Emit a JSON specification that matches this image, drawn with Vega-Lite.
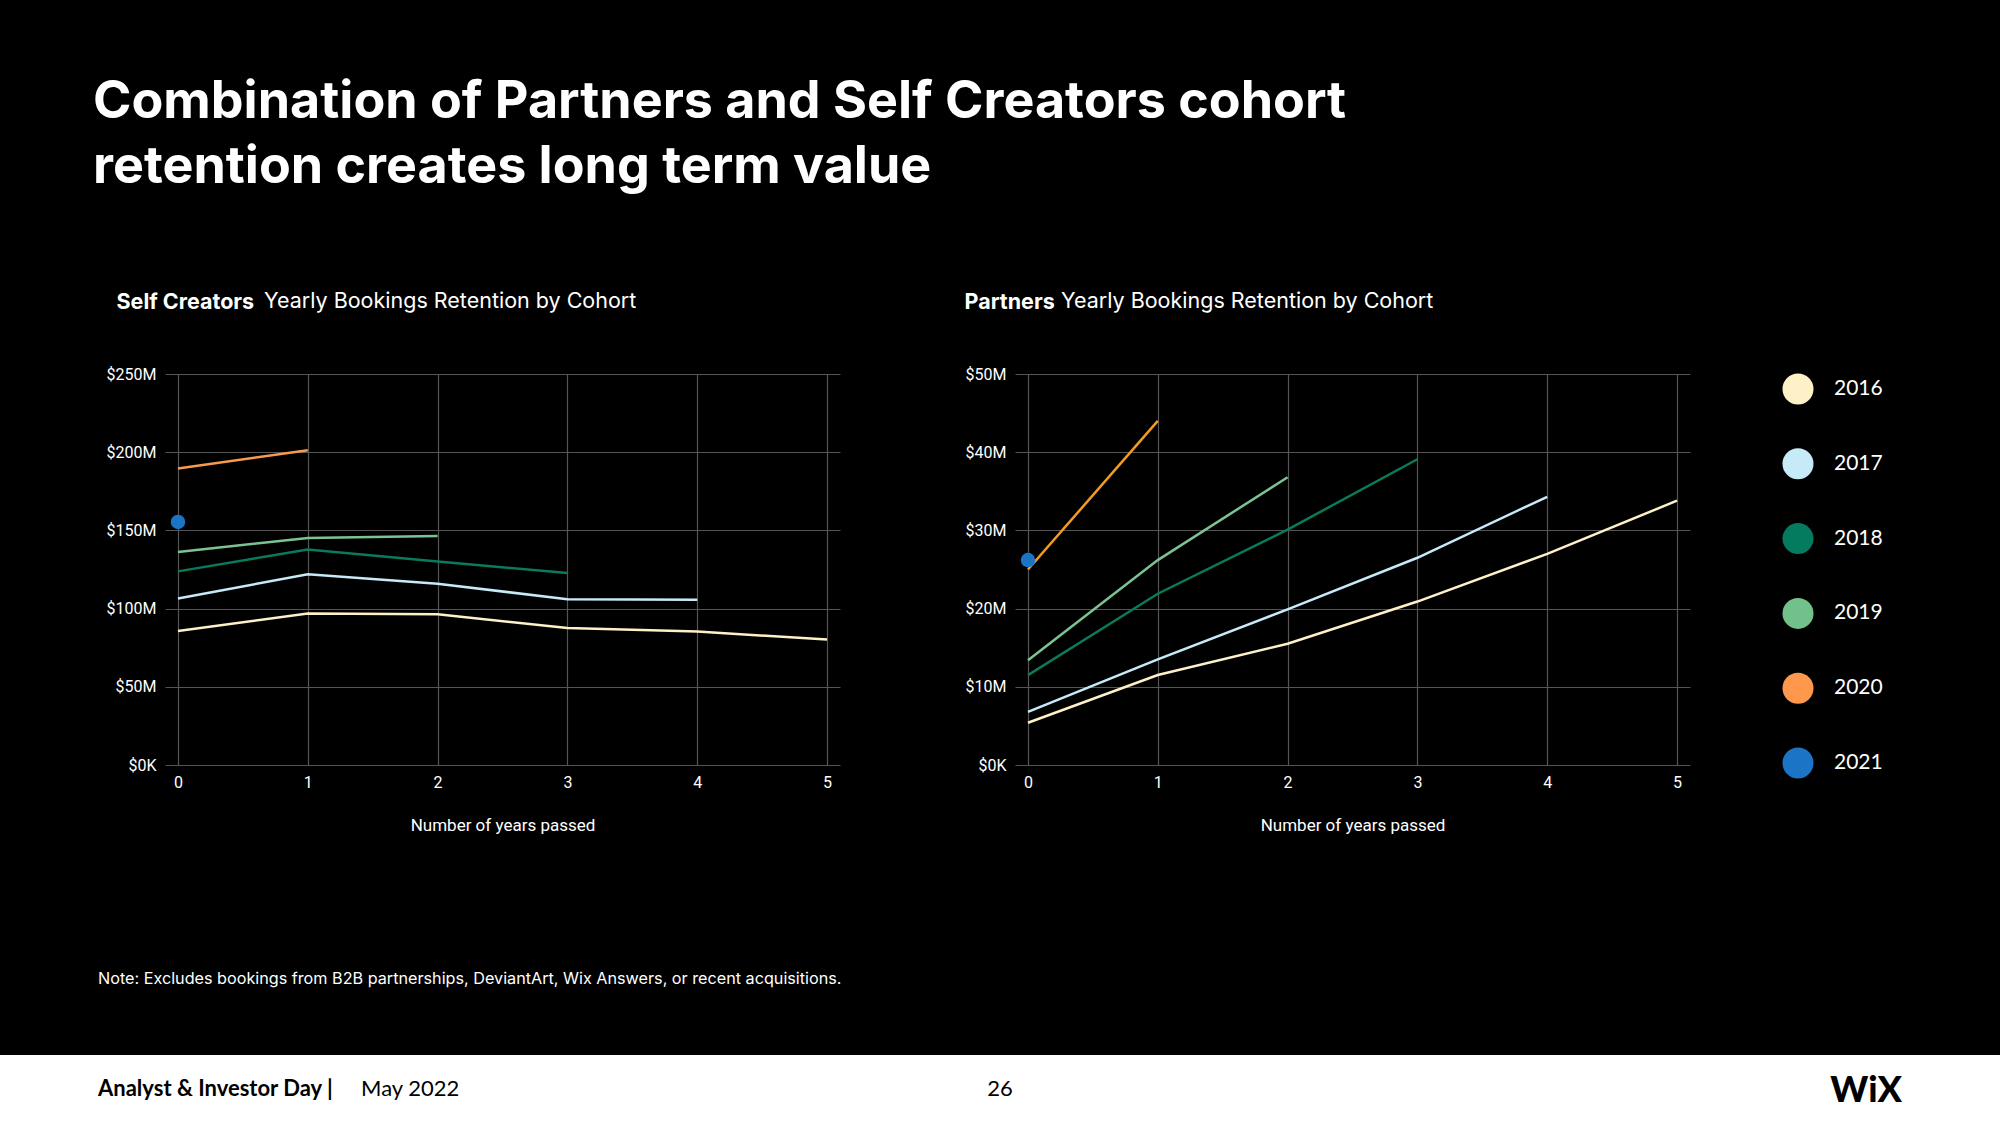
{
  "$schema": "https://vega.github.io/schema/vega-lite/v6.json",
  "background": "black",
  "padding": {"left": 0, "top": 75, "right": 0, "bottom": 0},
  "autosize": {"type": "pad"},
  "datasets": {
    "self": [
      {"cohort": "2016", "year": 0, "value": 85.7},
      {"cohort": "2016", "year": 1, "value": 96.9},
      {"cohort": "2016", "year": 2, "value": 96.4},
      {"cohort": "2016", "year": 3, "value": 87.6},
      {"cohort": "2016", "year": 4, "value": 85.3},
      {"cohort": "2016", "year": 5, "value": 80.2},
      {"cohort": "2017", "year": 0, "value": 106.4},
      {"cohort": "2017", "year": 1, "value": 122.0},
      {"cohort": "2017", "year": 2, "value": 115.9},
      {"cohort": "2017", "year": 3, "value": 106.0},
      {"cohort": "2017", "year": 4, "value": 105.7},
      {"cohort": "2018", "year": 0, "value": 123.8},
      {"cohort": "2018", "year": 1, "value": 137.8},
      {"cohort": "2018", "year": 2, "value": 130.1},
      {"cohort": "2018", "year": 3, "value": 122.7},
      {"cohort": "2019", "year": 0, "value": 136.2},
      {"cohort": "2019", "year": 1, "value": 145.2},
      {"cohort": "2019", "year": 2, "value": 146.4},
      {"cohort": "2020", "year": 0, "value": 189.6},
      {"cohort": "2020", "year": 1, "value": 201.2},
      {"cohort": "2021", "year": 0, "value": 155.4}
    ],
    "partners": [
      {"cohort": "2016", "year": 0, "value": 5.4},
      {"cohort": "2016", "year": 1, "value": 11.5},
      {"cohort": "2016", "year": 2, "value": 15.5},
      {"cohort": "2016", "year": 3, "value": 20.9},
      {"cohort": "2016", "year": 4, "value": 27.0},
      {"cohort": "2016", "year": 5, "value": 33.8},
      {"cohort": "2017", "year": 0, "value": 6.8},
      {"cohort": "2017", "year": 1, "value": 13.5},
      {"cohort": "2017", "year": 2, "value": 19.9},
      {"cohort": "2017", "year": 3, "value": 26.5},
      {"cohort": "2017", "year": 4, "value": 34.3},
      {"cohort": "2018", "year": 0, "value": 11.5},
      {"cohort": "2018", "year": 1, "value": 21.9},
      {"cohort": "2018", "year": 2, "value": 30.1},
      {"cohort": "2018", "year": 3, "value": 39.1},
      {"cohort": "2019", "year": 0, "value": 13.4},
      {"cohort": "2019", "year": 1, "value": 26.2},
      {"cohort": "2019", "year": 2, "value": 36.8},
      {"cohort": "2020", "year": 0, "value": 25.0},
      {"cohort": "2020", "year": 1, "value": 44.0},
      {"cohort": "2021", "year": 0, "value": 26.2}
    ],
    "legend": [
      {"cohort": "2016"}, {"cohort": "2017"}, {"cohort": "2018"},
      {"cohort": "2019"}, {"cohort": "2020"}, {"cohort": "2021"}
    ],
    "footer": [
      {"part": "event", "text": "Analyst & Investor Day |"},
      {"part": "date", "text": "May 2022"},
      {"part": "page", "text": "26"},
      {"part": "logo", "text": "WiX"}
    ],
    "empty": []
  },
  "title": {
    "text": ["Combination of Partners and Self Creators cohort", "retention creates long term value"],
    "anchor": "start",
    "frame": "group",
    "orient": "top",
    "dx": 93,
    "offset": 97,
    "fontSize": 52,
    "lineHeight": 65,
    "font": "Inter",
    "fontWeight": "bold",
    "color": "white"
  },
  "bounds": "flush",
  "spacing": 681,
  "vconcat": [
    {
      "bounds": "flush",
      "spacing": 0,
      "resolve": {"scale": {"color": "independent"}},
      "hconcat": [
        {"width": 165, "height": 10, "data": {"name": "empty"}, "mark": "point"},
        {
          "width": 675,
          "height": 391,
          "data": {"name": "self"},
          "title": {
            "text": "Yearly Bookings Retention by Cohort",
            "anchor": "start",
            "frame": "group",
            "dx": 99,
            "offset": -21,
            "fontSize": 21.5,
            "font": "Inter",
            "fontWeight": "normal",
            "color": "white"
          },
          "encoding": {
            "x": {
              "field": "year", "type": "quantitative",
              "scale": {"domain": [-0.1, 5.1], "nice": false, "zero": false},
              "axis": {"values": [0, 1, 2, 3, 4, 5], "title": "Number of years passed", "format": "d"}
            },
            "y": {
              "field": "value", "type": "quantitative",
              "scale": {"domain": [0, 250], "nice": false},
              "axis": {
                "values": [0, 50, 100, 150, 200, 250],
                "labelExpr": "datum.value == 0 ? '$0K' : '$' + datum.value + 'M'",
                "title": "Self Creators",
                "titleAngle": 0, "titleAlign": "left", "titleBaseline": "alphabetic",
                "titleX": -49, "titleY": -66,
                "titleFont": "Inter", "titleFontWeight": "bold", "titleFontSize": 21.5
              }
            },
            "color": {
              "field": "cohort", "type": "nominal", "legend": null,
              "scale": {"domain": ["2016", "2017", "2018", "2019", "2020", "2021"],
                        "range": ["#FEF0C7", "#C7EAF8", "#0A7A5C", "#7CC394", "#F79A4E", "#1C74C7"]}
            }
          },
          "layer": [
            {"mark": {"type": "line", "strokeWidth": 2.5}},
            {
              "transform": [{"filter": "datum.cohort == '2021'"}],
              "mark": {"type": "circle", "size": 210, "opacity": 1}
            }
          ]
        },
        {"width": 175, "height": 10, "data": {"name": "empty"}, "mark": "point"},
        {
          "width": 675,
          "height": 391,
          "data": {"name": "partners"},
          "title": {
            "text": "Yearly Bookings Retention by Cohort",
            "anchor": "start",
            "frame": "group",
            "dx": 46,
            "offset": -21,
            "fontSize": 21.5,
            "font": "Inter",
            "fontWeight": "normal",
            "color": "white"
          },
          "encoding": {
            "x": {
              "field": "year", "type": "quantitative",
              "scale": {"domain": [-0.1, 5.1], "nice": false, "zero": false},
              "axis": {"values": [0, 1, 2, 3, 4, 5], "title": "Number of years passed", "format": "d"}
            },
            "y": {
              "field": "value", "type": "quantitative",
              "scale": {"domain": [0, 50], "nice": false},
              "axis": {
                "values": [0, 10, 20, 30, 40, 50],
                "labelExpr": "datum.value == 0 ? '$0K' : '$' + datum.value + 'M'",
                "title": "Partners",
                "titleAngle": 0, "titleAlign": "left", "titleBaseline": "alphabetic",
                "titleX": -51, "titleY": -66,
                "titleFont": "Inter", "titleFontWeight": "bold", "titleFontSize": 21.5
              }
            },
            "color": {
              "field": "cohort", "type": "nominal", "legend": null,
              "scale": {"domain": ["2016", "2017", "2018", "2019", "2020", "2021"],
                        "range": ["#FEF0C7", "#C7EAF8", "#0A7A5C", "#7CC394", "#F39C1F", "#1C74C7"]}
            }
          },
          "layer": [
            {"mark": {"type": "line", "strokeWidth": 2.5}},
            {
              "transform": [{"filter": "datum.cohort == '2021'"}],
              "mark": {"type": "circle", "size": 210, "opacity": 1}
            }
          ]
        },
        {
          "width": 216,
          "height": 404,
          "data": {"name": "legend"},
          "encoding": {
            "y": {"field": "cohort", "type": "nominal", "scale": {"type": "point", "padding": 0.2}, "axis": null}
          },
          "layer": [
            {
              "mark": {"type": "circle", "size": 962, "opacity": 1},
              "encoding": {
                "color": {
                  "field": "cohort", "type": "nominal", "legend": null,
                  "scale": {"domain": ["2016", "2017", "2018", "2019", "2020", "2021"],
                            "range": ["#FEF0C7", "#C7EAF8", "#047A5F", "#73C18A", "#FF974C", "#1C74C7"]}
                }
              }
            },
            {
              "mark": {"type": "text", "align": "left", "baseline": "middle", "dx": 36, "fontSize": 21, "font": "Lato", "color": "white"},
              "encoding": {"text": {"field": "cohort"}}
            }
          ]
        }
      ]
    },
    {
      "width": 2000,
      "height": 70,
      "view": {"fill": "white", "stroke": null},
      "data": {"name": "footer"},
      "title": {
        "text": "Note: Excludes bookings from B2B partnerships, DeviantArt, Wix Answers, or recent acquisitions.",
        "anchor": "start",
        "frame": "group",
        "orient": "top",
        "dx": 98,
        "offset": 68,
        "fontSize": 16.2,
        "font": "Inter",
        "fontWeight": "normal",
        "color": "white"
      },
      "layer": [
        {
          "transform": [{"filter": "datum.part == 'event'"}],
          "mark": {"type": "text", "align": "left", "baseline": "middle", "dy": -1, "fontSize": 22, "font": "Lato", "fontWeight": "bold", "color": "black"},
          "encoding": {
            "x": {"field": "part", "type": "nominal", "scale": {"type": "point", "domain": ["event", "page", "logo"], "padding": 0.1087}, "axis": null},
            "text": {"field": "text"}
          }
        },
        {
          "transform": [{"filter": "datum.part == 'date'"}],
          "mark": {"type": "text", "align": "left", "baseline": "middle", "dx": 263, "dy": -1, "fontSize": 22, "font": "Lato", "fontWeight": "normal", "color": "black"},
          "encoding": {
            "x": {"datum": "event", "type": "nominal", "scale": {"type": "point", "domain": ["event", "page", "logo"], "padding": 0.1087}, "axis": null},
            "text": {"field": "text"}
          }
        },
        {
          "transform": [{"filter": "datum.part == 'page'"}],
          "mark": {"type": "text", "align": "center", "baseline": "middle", "dy": -1, "fontSize": 22, "font": "Lato", "fontWeight": "normal", "color": "black"},
          "encoding": {
            "x": {"field": "part", "type": "nominal", "scale": {"type": "point", "domain": ["event", "page", "logo"], "padding": 0.1087}, "axis": null},
            "text": {"field": "text"}
          }
        },
        {
          "transform": [{"filter": "datum.part == 'logo'"}],
          "mark": {"type": "text", "align": "right", "baseline": "middle", "dy": 1, "fontSize": 36, "font": "Lato", "fontWeight": 900, "color": "black"},
          "encoding": {
            "x": {"field": "part", "type": "nominal", "scale": {"type": "point", "domain": ["event", "page", "logo"], "padding": 0.1087}, "axis": null},
            "text": {"field": "text"}
          }
        }
      ]
    }
  ],
  "config": {
    "view": {"stroke": null},
    "axis": {
      "domain": false,
      "ticks": false,
      "grid": true,
      "gridColor": "#555555",
      "gridWidth": 1.2,
      "labelFont": "Roboto",
      "labelFontSize": 16,
      "labelColor": "white",
      "labelPadding": 9,
      "titleFont": "Roboto",
      "titleFontSize": 17,
      "titleFontWeight": "normal",
      "titleColor": "white"
    },
    "axisX": {"titlePadding": 27, "labelFlush": false},
    "axisY": {"labelFlush": false}
  }
}
